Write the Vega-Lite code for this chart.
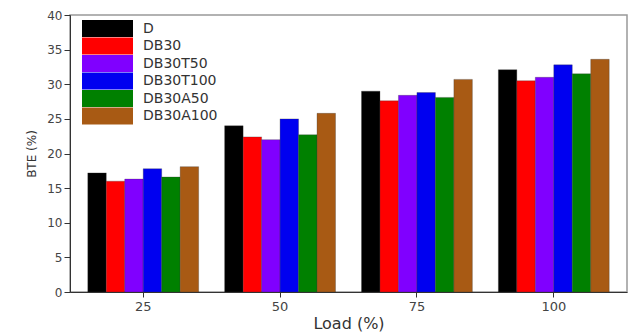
{
  "$schema": "https://vega.github.io/schema/vega-lite/v6.json",
  "width": 557,
  "height": 277,
  "autosize": {"type": "none"},
  "padding": {"left": 70, "top": 15, "right": 4, "bottom": 44},
  "background": "white",
  "config": {
    "view": {"stroke": "#999999", "strokeWidth": 1.5},
    "font": "DejaVu Sans"
  },
  "data": {
    "values": [
      {"load": "25", "fuel": "D", "bte": 17.2},
      {"load": "25", "fuel": "DB30", "bte": 16.0},
      {"load": "25", "fuel": "DB30T50", "bte": 16.3},
      {"load": "25", "fuel": "DB30T100", "bte": 17.8},
      {"load": "25", "fuel": "DB30A50", "bte": 16.6},
      {"load": "25", "fuel": "DB30A100", "bte": 18.1},
      {"load": "50", "fuel": "D", "bte": 24.0},
      {"load": "50", "fuel": "DB30", "bte": 22.4},
      {"load": "50", "fuel": "DB30T50", "bte": 22.0},
      {"load": "50", "fuel": "DB30T100", "bte": 25.0},
      {"load": "50", "fuel": "DB30A50", "bte": 22.7},
      {"load": "50", "fuel": "DB30A100", "bte": 25.8},
      {"load": "75", "fuel": "D", "bte": 29.0},
      {"load": "75", "fuel": "DB30", "bte": 27.6},
      {"load": "75", "fuel": "DB30T50", "bte": 28.4},
      {"load": "75", "fuel": "DB30T100", "bte": 28.8},
      {"load": "75", "fuel": "DB30A50", "bte": 28.1},
      {"load": "75", "fuel": "DB30A100", "bte": 30.7},
      {"load": "100", "fuel": "D", "bte": 32.1},
      {"load": "100", "fuel": "DB30", "bte": 30.5},
      {"load": "100", "fuel": "DB30T50", "bte": 31.0},
      {"load": "100", "fuel": "DB30T100", "bte": 32.8},
      {"load": "100", "fuel": "DB30A50", "bte": 31.5},
      {"load": "100", "fuel": "DB30A100", "bte": 33.6}
    ]
  },
  "mark": {"type": "bar", "stroke": "#333333", "strokeWidth": 0.3},
  "encoding": {
    "x": {
      "field": "load",
      "type": "nominal",
      "sort": ["25", "50", "75", "100"],
      "scale": {"paddingInner": 0.19, "paddingOuter": 0.13},
      "axis": {
        "title": "Load (%)",
        "titleFontSize": 16,
        "titleFontWeight": "normal",
        "titleColor": "#333333",
        "titlePadding": 2,
        "labelAngle": 0,
        "labelFontSize": 13,
        "labelColor": "#444444",
        "domainColor": "#333333",
        "tickColor": "#333333",
        "tickSize": 5,
        "labelPadding": 3
      }
    },
    "xOffset": {
      "field": "fuel",
      "type": "nominal",
      "sort": ["D", "DB30", "DB30T50", "DB30T100", "DB30A50", "DB30A100"],
      "scale": {"paddingInner": 0, "paddingOuter": 0}
    },
    "y": {
      "field": "bte",
      "type": "quantitative",
      "scale": {"domain": [0, 40], "nice": false},
      "axis": {
        "title": "BTE (%)",
        "titleFontSize": 12,
        "titleFontWeight": "normal",
        "titleColor": "#333333",
        "titlePadding": 8,
        "values": [0, 5, 10, 15, 20, 25, 30, 35, 40],
        "labelFontSize": 12,
        "labelColor": "#444444",
        "domainColor": "#333333",
        "tickColor": "#333333",
        "tickSize": 6,
        "grid": false
      }
    },
    "color": {
      "field": "fuel",
      "type": "nominal",
      "sort": ["D", "DB30", "DB30T50", "DB30T100", "DB30A50", "DB30A100"],
      "scale": {
        "domain": ["D", "DB30", "DB30T50", "DB30T100", "DB30A50", "DB30A100"],
        "range": ["#000000", "#ff0000", "#8000ff", "#0000f0", "#008000", "#a85a14"]
      },
      "legend": {
        "title": null,
        "orient": "none",
        "legendX": 12,
        "legendY": 5,
        "symbolType": "M-1,-1H5V1H-1Z",
        "symbolSize": 289,
        "symbolStrokeWidth": 0,
        "symbolOpacity": 1,
        "labelFontSize": 14,
        "labelColor": "#333333",
        "labelOffset": 44,
        "rowPadding": 0.5,
        "padding": 0
      }
    }
  }
}
